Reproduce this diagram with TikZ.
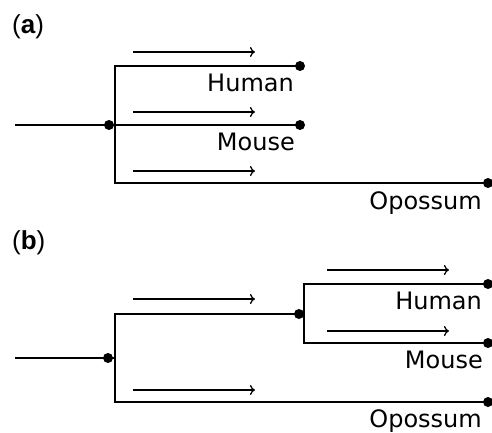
\documentclass[tikz,border=0pt]{standalone}
\usepackage{fontspec}
\setmainfont{DejaVu Sans}
\newfontfamily\panelfont{Liberation Sans}
\usetikzlibrary{arrows.meta}
\begin{document}
\begin{tikzpicture}[x=1pt,y=-1pt,
  branch/.style={line width=2.1pt},
  leaf/.style={circle,fill=black,inner sep=0pt,minimum size=10pt},
  dir/.style={line width=1.3pt,-{To[length=5pt,width=10pt]}},
  taxon/.style={anchor=base east,inner sep=0pt,font=\fontsize{24}{28}\selectfont},
  panel/.style={anchor=base west,inner sep=0pt,font=\panelfont\fontsize{26}{30}\selectfont}]
\useasboundingbox[fill=white] (0,0) rectangle (492,433);

% ---- (a) star tree ----
\node[panel] (la) at (12,34) {(\textbf{a})};
\coordinate (a0) at (15,125);
\node[leaf] (aR) at (109,125) {};
\coordinate (aV) at (115,125);
\node[leaf] (aH) at (300,66) {};
\node[leaf] (aM) at (300,125) {};
\node[leaf] (aO) at (488,183) {};
\draw[branch] (a0) -- (aR.center) -- (aV) -- (aM.center);
\draw[branch] (aH.center) -| (aV);
\draw[branch] (aO.center) -| (aV);
\node[taxon] (tH) at (294,92) {Human};
\node[taxon] (tM) at (295,150) {Mouse};
\node[taxon] (tO) at (482,209) {Opossum};
\coordinate (a1s) at (133,52);  \coordinate (a1e) at (255,52);
\coordinate (a2s) at (133,112); \coordinate (a2e) at (255,112);
\coordinate (a3s) at (133,171); \coordinate (a3e) at (255,171);
\draw[dir] (a1s) -- (a1e);
\draw[dir] (a2s) -- (a2e);
\draw[dir] (a3s) -- (a3e);

% ---- (b) resolved tree ----
\node[panel] (lb) at (12,249) {(\textbf{b})};
\coordinate (b0) at (15,358);
\node[leaf] (bR) at (108,358) {};
\coordinate (bV) at (115,358);
\node[leaf] (bI) at (299,314) {};
\coordinate (bW) at (304,314);
\node[leaf] (bH) at (488,284) {};
\node[leaf] (bM) at (488,343) {};
\node[leaf] (bO) at (488,402) {};
\draw[branch] (b0) -- (bR.center) -- (bV);
\draw[branch] (bI.center) -| (bV);
\draw[branch] (bO.center) -| (bV);
\draw[branch] (bI.center) -- (bW);
\draw[branch] (bH.center) -| (bW);
\draw[branch] (bM.center) -| (bW);
\node[taxon] (uH) at (482,309) {Human};
\node[taxon] (uM) at (483,368) {Mouse};
\node[taxon] (uO) at (482,427) {Opossum};
\coordinate (b1s) at (133,299); \coordinate (b1e) at (255,299);
\coordinate (b2s) at (133,390); \coordinate (b2e) at (255,390);
\coordinate (b3s) at (327,270); \coordinate (b3e) at (449,270);
\coordinate (b4s) at (327,331); \coordinate (b4e) at (449,331);
\draw[dir] (b1s) -- (b1e);
\draw[dir] (b2s) -- (b2e);
\draw[dir] (b3s) -- (b3e);
\draw[dir] (b4s) -- (b4e);
\end{tikzpicture}
\end{document}
